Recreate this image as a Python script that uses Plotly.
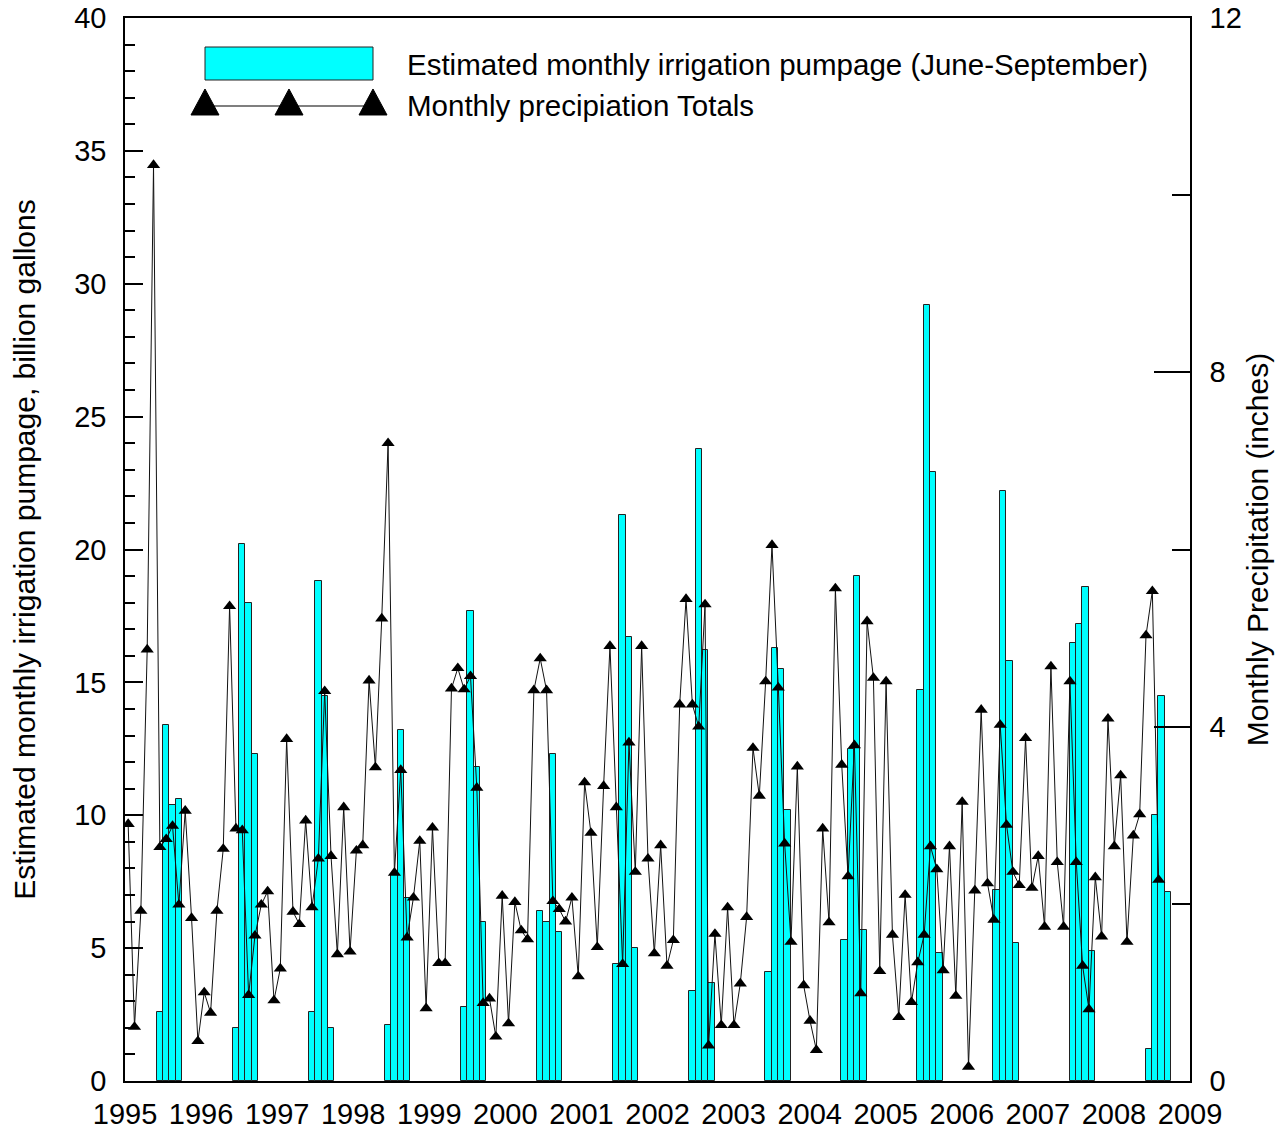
import plotly.graph_objects as go

FONT = "Liberation Sans, Arial, sans-serif"

# ---------------- data ----------------
YEARS = list(range(1995, 2009))
PUMP_MONTHS = [6, 7, 8, 9]
# Estimated monthly irrigation pumpage, billion gallons (June..September)
PUMP_JUN = [2.6, 2.0, 2.6, 2.1, 2.8, 6.4, 4.4, 3.4, 4.1, 5.3, 14.7, 7.2, 16.5, 1.2]
PUMP_JUL = [13.4, 20.2, 18.8, 7.8, 17.7, 6.0, 21.3, 23.8, 16.3, 12.5, 29.2, 22.2, 17.2, 10.0]
PUMP_AUG = [10.4, 18.0, 14.5, 13.2, 11.8, 12.3, 16.7, 16.2, 15.5, 19.0, 22.9, 15.8, 18.6, 14.5]
PUMP_SEP = [10.6, 12.3, 2.0, 6.9, 6.0, 5.6, 5.0, 3.7, 10.2, 5.7, 4.8, 5.2, 4.9, 7.1]

# Monthly precipitation totals, inches (Jan..Dec)
P1995 = [2.90, 0.61, 1.92, 4.87, 10.34, 2.64, 2.73, 2.88, 1.99, 3.05, 1.84, 0.45]
P1996 = [1.00, 0.77, 1.92, 2.62, 5.36, 2.85, 2.83, 0.97, 1.64, 1.99, 2.14, 0.91]
P1997 = [1.27, 3.86, 1.91, 1.77, 2.94, 1.96, 2.51, 4.40, 2.54, 1.43, 3.09, 1.46]
P1998 = [2.60, 2.66, 4.52, 3.54, 5.22, 7.20, 2.35, 3.51, 1.62, 2.07, 2.71, 0.82]
P1999 = [2.86, 1.33, 1.33, 4.43, 4.66, 4.42, 4.57, 3.31, 0.88, 0.93, 0.50, 2.09]
P2000 = [0.65, 2.02, 1.70, 1.60, 4.41, 4.77, 4.41, 2.03, 1.94, 1.80, 2.07, 1.18]
P2001 = [3.37, 2.80, 1.51, 3.33, 4.91, 3.09, 1.32, 3.82, 2.36, 4.91, 2.51, 1.44]
P2002 = [2.66, 1.30, 1.59, 4.25, 5.44, 4.25, 4.00, 5.38, 0.40, 1.66, 0.63, 1.96]
P2003 = [0.63, 1.10, 1.85, 3.76, 3.22, 4.51, 6.05, 4.44, 2.68, 1.57, 3.55, 1.08]
P2004 = [0.68, 0.35, 2.85, 1.79, 5.56, 3.57, 2.31, 3.79, 0.99, 5.19, 4.55, 1.24]
P2005 = [4.51, 1.65, 0.72, 2.10, 0.89, 1.34, 1.65, 2.65, 2.39, 1.25, 2.65, 0.96]
P2006 = [3.15, 0.16, 2.15, 4.19, 2.23, 1.82, 4.02, 2.89, 2.36, 2.21, 3.87, 2.18]
P2007 = [2.54, 1.74, 4.68, 2.47, 1.74, 4.51, 2.47, 1.30, 0.81, 2.30, 1.63, 4.09]
P2008 = [2.65, 3.45, 1.57, 2.77, 3.01, 5.03, 5.53, 2.27]
PRECIP_BY_YEAR = [P1995, P1996, P1997, P1998, P1999, P2000, P2001,
                  P2002, P2003, P2004, P2005, P2006, P2007, P2008]

X_TICKS = list(range(1995, 2010))
Y1_TICKS = [0, 5, 10, 15, 20, 25, 30, 35, 40]
Y2_TICKS = [0, 4, 8, 12]

LEGEND_BAR = "Estimated monthly irrigation pumpage (June-September)"
LEGEND_LINE = "Monthly precipiation Totals"
Y1_TITLE = "Estimated monthly irrigation pumpage, billion gallons"
Y2_TITLE = "Monthly Precipitation (inches)"

# ---------------- build series ----------------
bar_x, bar_y = [], []
for i, yr in enumerate(YEARS):
    for m, series in zip(PUMP_MONTHS, (PUMP_JUN, PUMP_JUL, PUMP_AUG, PUMP_SEP)):
        bar_x.append(yr + (m - 0.5) / 12.0)
        bar_y.append(series[i])

# precipitation observation position within the month (mid-month until
# Aug 2002, start of month afterwards, as in the source graphic)
SWITCH = (2002, 9)
pr_x, pr_y = [], []
for yr, vals in zip(YEARS, PRECIP_BY_YEAR):
    for k, v in enumerate(vals):
        m = k + 1
        frac = 0.5 if (yr, m) < SWITCH else 0.06
        pr_x.append(yr + (m - 1 + frac) / 12.0)
        pr_y.append(v)

fig = go.Figure()
fig.add_trace(go.Bar(
    x=bar_x, y=bar_y, width=1 / 12.0,
    marker=dict(color="#00FFFF", line=dict(color="#222222", width=1)),
    name=LEGEND_BAR, yaxis="y"))
fig.add_trace(go.Scatter(
    x=pr_x, y=pr_y, mode="lines+markers", yaxis="y2",
    line=dict(color="#111111", width=1),
    marker=dict(symbol="triangle-up", size=11.5, color="black"),
    name=LEGEND_LINE))

# ---------------- layout ----------------
L, R, T, B = 125, 1190, 18, 1081
W, H = 1286, 1132


def px(xp):
    return (xp - L) / (R - L)


def py(yp):
    return (B - yp) / (B - T)


axis_common = dict(showgrid=False, zeroline=False, showline=True,
                   linecolor="black", linewidth=1.5, automargin=False,
                   tickfont=dict(family=FONT, size=29, color="black"))

fig.update_layout(
    width=W, height=H,
    margin=dict(l=L, r=W - R, t=T, b=H - B, pad=0, autoexpand=False),
    plot_bgcolor="white", paper_bgcolor="white",
    showlegend=False,
    font=dict(family=FONT, size=29, color="black"),
    bargap=0,
    xaxis=dict(range=[1995, 2009], tickmode="array", tickvals=X_TICKS,
               ticktext=[str(t) for t in X_TICKS], ticks="", mirror=True,
               ticklabelstandoff=6, **axis_common),
    yaxis=dict(range=[0, 40], tickmode="array", tickvals=Y1_TICKS,
               ticks="inside", ticklen=18, tickwidth=1.5, tickcolor="black",
               minor=dict(dtick=1, tick0=0, ticks="inside", ticklen=10,
                          tickwidth=1.5, tickcolor="black"),
               ticklabelstandoff=11,
               title=dict(text=Y1_TITLE, standoff=30,
                          font=dict(family=FONT, size=30, color="black")),
               **axis_common),
    yaxis2=dict(range=[0, 12], overlaying="y", side="right", tickmode="array",
                tickvals=Y2_TICKS, ticks="inside", ticklen=36, tickwidth=1.5,
                tickcolor="black",
                minor=dict(dtick=2, tick0=0, ticks="inside", ticklen=18,
                           tickwidth=1.5, tickcolor="black"),
                ticklabelstandoff=12,
                title=dict(text=Y2_TITLE, standoff=6,
                           font=dict(family=FONT, size=30, color="black")),
                **axis_common),
)

# ---------------- legend (drawn in paper space) ----------------
shapes = []
shapes.append(dict(type="rect", xref="paper", yref="paper",
                   x0=px(205), x1=px(373), y0=py(80), y1=py(47),
                   fillcolor="#00FFFF", line=dict(color="#222222", width=1)))
shapes.append(dict(type="line", xref="paper", yref="paper",
                   x0=px(205), x1=px(373), y0=py(106), y1=py(106),
                   line=dict(color="#555555", width=1.5)))
for cx in (205, 289, 373):
    path = "M {:.5f},{:.5f} L {:.5f},{:.5f} L {:.5f},{:.5f} Z".format(
        px(cx - 14), py(115), px(cx + 14), py(115), px(cx), py(89))
    shapes.append(dict(type="path", xref="paper", yref="paper", path=path,
                       fillcolor="black", line=dict(color="black", width=1)))
fig.update_layout(shapes=shapes)

fig.add_annotation(xref="paper", yref="paper", x=px(405), y=py(64),
                   xanchor="left", yanchor="middle", showarrow=False,
                   text=LEGEND_BAR, font=dict(family=FONT, size=29.5, color="black"))
fig.add_annotation(xref="paper", yref="paper", x=px(405), y=py(105),
                   xanchor="left", yanchor="middle", showarrow=False,
                   text=LEGEND_LINE, font=dict(family=FONT, size=29.5, color="black"))

# remove the browser's default page margin so the figure fills the window
fig.write_html("out.html",
               config={"displayModeBar": False},
               post_script="document.body.style.margin='0';"
                           "document.body.style.overflow='hidden';")
